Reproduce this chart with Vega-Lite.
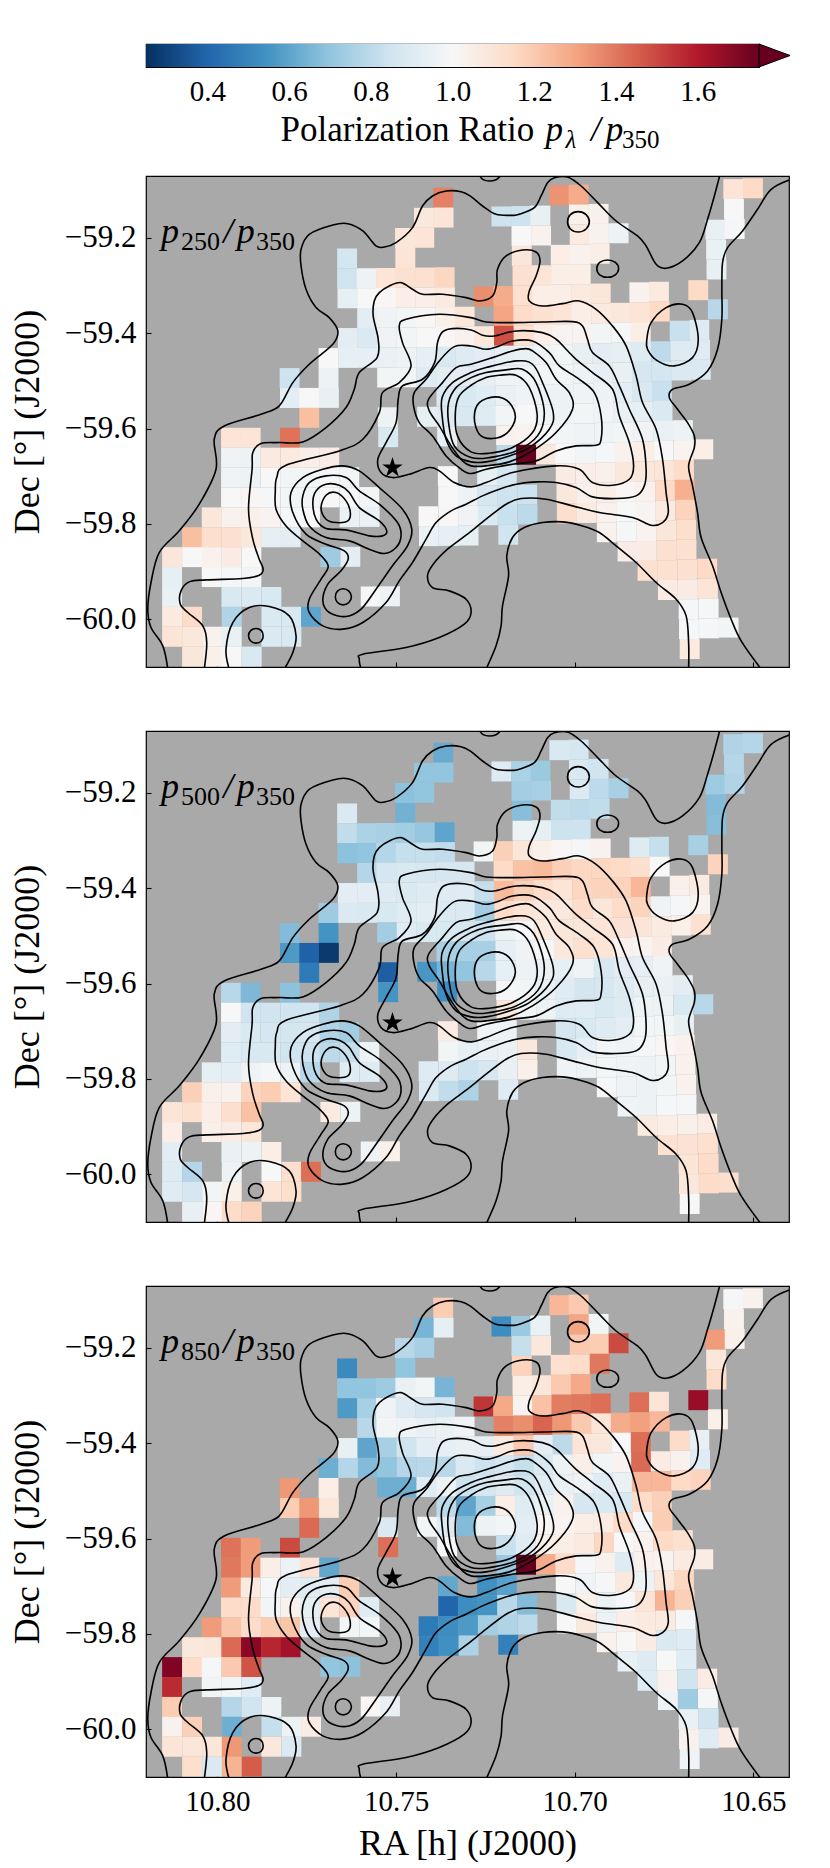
{
"$schema":"https://vega.github.io/schema/vega-lite/v6.json",
"background":"white",
"padding":{"left":8,"top":41,"right":0,"bottom":0},
"config":{"font":"Liberation Serif","text":{"font":"Liberation Serif"},"axis":{"labelFont":"Liberation Serif","titleFont":"Liberation Serif","labelColor":"black","titleColor":"black","tickColor":"black","domain":false,"grid":false,"zindex":1,"titleFontWeight":"normal","labelFontSize":29,"titleFontSize":36,"tickWidth":1.1,"tickSize":-5,"labelPadding":15}},
"datasets":{
"cells":[
{"ra":10.7368,"dec":-59.1155,"r250":1.38,"r500":0.62,"r850":1.19},
{"ra":10.7043,"dec":-59.1102,"r250":1.34,"r500":0.88,"r850":1.25},
{"ra":10.6989,"dec":-59.1091,"r250":1.28,"r500":0.87,"r850":1.2},
{"ra":10.6556,"dec":-59.0975,"r250":1.1,"r500":0.77,"r850":0.99},
{"ra":10.6501,"dec":-59.0957,"r250":1.15,"r500":0.78,"r850":1.03},
{"ra":10.7422,"dec":-59.1578,"r250":1.08,"r500":0.7,"r850":0.65},
{"ra":10.7367,"dec":-59.1572,"r250":1.1,"r500":0.7,"r850":0.93},
{"ra":10.7205,"dec":-59.1549,"r250":0.84,"r500":0.9,"r850":0.53},
{"ra":10.715,"dec":-59.154,"r250":0.84,"r500":0.76,"r850":0.72},
{"ra":10.7096,"dec":-59.153,"r250":0.94,"r500":0.72,"r850":0.95},
{"ra":10.6988,"dec":-59.1508,"r250":1.04,"r500":0.88,"r850":1.3},
{"ra":10.6933,"dec":-59.1496,"r250":1.04,"r500":0.85,"r850":0.98},
{"ra":10.6554,"dec":-59.1392,"r250":1.0,"r500":0.78,"r850":1.03},
{"ra":10.7475,"dec":-59.2001,"r250":1.09,"r500":0.69,"r850":0.79},
{"ra":10.7421,"dec":-59.1996,"r250":1.1,"r500":0.7,"r850":0.75},
{"ra":10.7149,"dec":-59.1958,"r250":1.0,"r500":0.74,"r850":0.82},
{"ra":10.7094,"dec":-59.1948,"r250":1.03,"r500":0.75,"r850":1.08},
{"ra":10.6986,"dec":-59.1926,"r250":1.07,"r500":0.89,"r850":1.2},
{"ra":10.6932,"dec":-59.1914,"r250":1.03,"r500":0.8,"r850":1.19},
{"ra":10.6877,"dec":-59.1901,"r250":0.96,"r500":0.75,"r850":1.5},
{"ra":10.6606,"dec":-59.1827,"r250":0.94,"r500":0.73,"r850":1.32},
{"ra":10.6552,"dec":-59.181,"r250":0.99,"r500":0.77,"r850":1.04},
{"ra":10.7637,"dec":-59.243,"r250":0.86,"r500":0.89,"r850":0.52},
{"ra":10.7474,"dec":-59.2418,"r250":1.1,"r500":0.64,"r850":0.7},
{"ra":10.7148,"dec":-59.2375,"r250":1.09,"r500":0.68,"r850":1.17},
{"ra":10.7039,"dec":-59.2354,"r250":1.05,"r500":0.81,"r850":1.12},
{"ra":10.6985,"dec":-59.2343,"r250":1.03,"r500":0.8,"r850":1.14},
{"ra":10.693,"dec":-59.2331,"r250":1.05,"r500":0.81,"r850":1.4},
{"ra":10.6604,"dec":-59.2244,"r250":0.95,"r500":0.67,"r850":1.09},
{"ra":10.7637,"dec":-59.2847,"r250":0.85,"r500":0.81,"r850":0.7},
{"ra":10.7582,"dec":-59.2844,"r250":0.96,"r500":0.76,"r850":0.7},
{"ra":10.7528,"dec":-59.284,"r250":1.1,"r500":0.75,"r850":0.73},
{"ra":10.7474,"dec":-59.2835,"r250":1.12,"r500":0.74,"r850":0.95},
{"ra":10.7419,"dec":-59.283,"r250":1.12,"r500":0.71,"r850":0.98},
{"ra":10.7364,"dec":-59.2824,"r250":1.16,"r500":0.6,"r850":0.65},
{"ra":10.7146,"dec":-59.2792,"r250":1.12,"r500":0.96,"r850":1.05},
{"ra":10.7092,"dec":-59.2782,"r250":1.1,"r500":0.93,"r850":1.09},
{"ra":10.7038,"dec":-59.2771,"r250":1.05,"r500":0.84,"r850":1.2},
{"ra":10.6983,"dec":-59.276,"r250":1.05,"r500":0.84,"r850":1.29},
{"ra":10.6603,"dec":-59.2661,"r250":0.94,"r500":0.68,"r850":1.14},
{"ra":10.7636,"dec":-59.3265,"r250":0.93,"r500":0.69,"r850":0.57},
{"ra":10.7581,"dec":-59.3262,"r250":1.0,"r500":0.7,"r850":0.75},
{"ra":10.7528,"dec":-59.3258,"r250":1.01,"r500":0.78,"r850":0.97},
{"ra":10.7473,"dec":-59.3253,"r250":1.05,"r500":0.82,"r850":0.9},
{"ra":10.7418,"dec":-59.3248,"r250":1.05,"r500":0.82,"r850":0.87},
{"ra":10.7363,"dec":-59.3242,"r250":1.07,"r500":0.81,"r850":0.85},
{"ra":10.7255,"dec":-59.3227,"r250":1.35,"r500":0.98,"r850":1.55},
{"ra":10.72,"dec":-59.3219,"r250":1.28,"r500":1.18,"r850":1.29},
{"ra":10.7145,"dec":-59.321,"r250":1.12,"r500":1.09,"r850":1.02},
{"ra":10.7091,"dec":-59.32,"r250":1.05,"r500":1.04,"r850":1.22},
{"ra":10.7037,"dec":-59.3189,"r250":1.05,"r500":1.01,"r850":1.39},
{"ra":10.6982,"dec":-59.3178,"r250":1.07,"r500":0.99,"r850":1.4},
{"ra":10.6927,"dec":-59.3166,"r250":1.09,"r500":1.03,"r850":1.42},
{"ra":10.6819,"dec":-59.314,"r250":1.03,"r500":0.9,"r850":1.42},
{"ra":10.6764,"dec":-59.3126,"r250":1.07,"r500":0.82,"r850":1.1},
{"ra":10.6654,"dec":-59.3095,"r250":1.15,"r500":0.75,"r850":1.65},
{"ra":10.7581,"dec":-59.3679,"r250":0.92,"r500":0.78,"r850":0.79},
{"ra":10.7527,"dec":-59.3675,"r250":0.97,"r500":0.87,"r850":0.98},
{"ra":10.7472,"dec":-59.367,"r250":0.98,"r500":0.88,"r850":0.97},
{"ra":10.7417,"dec":-59.3665,"r250":1.01,"r500":0.87,"r850":0.94},
{"ra":10.7362,"dec":-59.3659,"r250":1.04,"r500":0.87,"r850":0.95},
{"ra":10.7308,"dec":-59.3652,"r250":1.09,"r500":0.87,"r850":0.97},
{"ra":10.7199,"dec":-59.3636,"r250":1.3,"r500":1.15,"r850":1.38},
{"ra":10.7144,"dec":-59.3627,"r250":1.14,"r500":1.22,"r850":1.35},
{"ra":10.7089,"dec":-59.3617,"r250":1.12,"r500":1.24,"r850":1.44},
{"ra":10.7035,"dec":-59.3606,"r250":1.1,"r500":1.18,"r850":1.33},
{"ra":10.6981,"dec":-59.3595,"r250":1.05,"r500":1.16,"r850":1.2},
{"ra":10.6926,"dec":-59.3583,"r250":1.07,"r500":1.16,"r850":1.1},
{"ra":10.6871,"dec":-59.357,"r250":1.08,"r500":1.15,"r850":1.28},
{"ra":10.6817,"dec":-59.3557,"r250":1.1,"r500":1.13,"r850":1.31},
{"ra":10.6762,"dec":-59.3543,"r250":1.15,"r500":1.0,"r850":1.25},
{"ra":10.6599,"dec":-59.3496,"r250":0.79,"r500":1.17,"r850":1.04},
{"ra":10.7635,"dec":-59.4099,"r250":0.92,"r500":0.92,"r850":0.94},
{"ra":10.758,"dec":-59.4096,"r250":0.89,"r500":0.92,"r850":0.6},
{"ra":10.7526,"dec":-59.4092,"r250":0.97,"r500":0.9,"r850":0.75},
{"ra":10.7471,"dec":-59.4087,"r250":0.98,"r500":0.89,"r850":0.85},
{"ra":10.7416,"dec":-59.4082,"r250":1.0,"r500":0.9,"r850":0.92},
{"ra":10.7361,"dec":-59.4076,"r250":1.01,"r500":0.9,"r850":0.93},
{"ra":10.7307,"dec":-59.4069,"r250":1.03,"r500":0.91,"r850":0.95},
{"ra":10.7253,"dec":-59.4061,"r250":1.08,"r500":0.82,"r850":0.93},
{"ra":10.7198,"dec":-59.4053,"r250":1.49,"r500":1.24,"r850":1.07},
{"ra":10.7143,"dec":-59.4044,"r250":1.12,"r500":1.18,"r850":1.2},
{"ra":10.7088,"dec":-59.4034,"r250":1.05,"r500":1.14,"r850":0.92},
{"ra":10.7034,"dec":-59.4023,"r250":1.02,"r500":1.1,"r850":0.8},
{"ra":10.6979,"dec":-59.4012,"r250":1.02,"r500":1.16,"r850":1.1},
{"ra":10.6924,"dec":-59.4,"r250":0.98,"r500":1.17,"r850":1.08},
{"ra":10.6869,"dec":-59.3987,"r250":0.99,"r500":1.17,"r850":1.0},
{"ra":10.6815,"dec":-59.3974,"r250":1.05,"r500":1.25,"r850":1.42},
{"ra":10.6706,"dec":-59.3945,"r250":0.83,"r500":1.04,"r850":1.14},
{"ra":10.6651,"dec":-59.3929,"r250":0.9,"r500":1.07,"r850":0.94},
{"ra":10.7689,"dec":-59.4519,"r250":1.0,"r500":0.73,"r850":0.63},
{"ra":10.7634,"dec":-59.4516,"r250":0.93,"r500":0.89,"r850":0.78},
{"ra":10.7579,"dec":-59.4513,"r250":0.93,"r500":0.88,"r850":0.67},
{"ra":10.7525,"dec":-59.4509,"r250":0.95,"r500":0.88,"r850":0.7},
{"ra":10.747,"dec":-59.4504,"r250":0.96,"r500":0.91,"r850":0.78},
{"ra":10.7415,"dec":-59.4499,"r250":0.93,"r500":0.92,"r850":0.79},
{"ra":10.7361,"dec":-59.4493,"r250":0.88,"r500":0.89,"r850":0.79},
{"ra":10.7306,"dec":-59.4486,"r250":0.9,"r500":0.89,"r850":0.89},
{"ra":10.7252,"dec":-59.4478,"r250":0.92,"r500":0.74,"r850":0.84},
{"ra":10.7197,"dec":-59.447,"r250":0.93,"r500":1.14,"r850":0.87},
{"ra":10.7142,"dec":-59.4461,"r250":0.95,"r500":1.1,"r850":0.82},
{"ra":10.7087,"dec":-59.4451,"r250":0.97,"r500":1.08,"r850":0.88},
{"ra":10.7033,"dec":-59.444,"r250":0.98,"r500":1.08,"r850":0.96},
{"ra":10.6978,"dec":-59.4429,"r250":0.94,"r500":1.14,"r850":1.05},
{"ra":10.6923,"dec":-59.4417,"r250":0.92,"r500":1.09,"r850":0.98},
{"ra":10.6868,"dec":-59.4404,"r250":0.93,"r500":1.14,"r850":1.02},
{"ra":10.6814,"dec":-59.4391,"r250":0.9,"r500":1.17,"r850":1.43},
{"ra":10.6759,"dec":-59.4377,"r250":0.8,"r500":0.97,"r850":1.06},
{"ra":10.6704,"dec":-59.4362,"r250":0.9,"r500":0.99,"r850":1.03},
{"ra":10.6649,"dec":-59.4346,"r250":0.9,"r500":1.02,"r850":0.91},
{"ra":10.7798,"dec":-59.494,"r250":0.84,"r500":0.67,"r850":1.33},
{"ra":10.7689,"dec":-59.4937,"r250":0.96,"r500":0.55,"r850":1.05},
{"ra":10.7525,"dec":-59.4927,"r250":0.98,"r500":0.74,"r850":0.63},
{"ra":10.747,"dec":-59.4922,"r250":0.98,"r500":0.91,"r850":0.63},
{"ra":10.7415,"dec":-59.4917,"r250":0.9,"r500":0.88,"r850":0.91},
{"ra":10.736,"dec":-59.4911,"r250":0.92,"r500":0.88,"r850":0.96},
{"ra":10.7305,"dec":-59.4904,"r250":0.92,"r500":0.87,"r850":0.84},
{"ra":10.7251,"dec":-59.4896,"r250":0.93,"r500":0.84,"r850":0.87},
{"ra":10.7195,"dec":-59.4888,"r250":0.97,"r500":0.96,"r850":0.9},
{"ra":10.714,"dec":-59.4879,"r250":0.97,"r500":0.99,"r850":0.85},
{"ra":10.7085,"dec":-59.4869,"r250":0.98,"r500":1.07,"r850":0.91},
{"ra":10.7031,"dec":-59.4858,"r250":0.98,"r500":1.09,"r850":0.95},
{"ra":10.6976,"dec":-59.4847,"r250":0.96,"r500":1.09,"r850":0.97},
{"ra":10.6921,"dec":-59.4835,"r250":0.93,"r500":1.1,"r850":0.91},
{"ra":10.6866,"dec":-59.4822,"r250":0.94,"r500":1.11,"r850":0.95},
{"ra":10.6812,"dec":-59.4809,"r250":0.87,"r500":1.1,"r850":1.25},
{"ra":10.6757,"dec":-59.4795,"r250":0.86,"r500":1.07,"r850":1.25},
{"ra":10.6702,"dec":-59.478,"r250":0.89,"r500":1.04,"r850":1.15},
{"ra":10.6647,"dec":-59.4764,"r250":0.89,"r500":1.12,"r850":1.17},
{"ra":10.7797,"dec":-59.5357,"r250":0.92,"r500":0.57,"r850":1.19},
{"ra":10.7743,"dec":-59.5356,"r250":1.0,"r500":0.39,"r850":1.33},
{"ra":10.7688,"dec":-59.5354,"r250":0.94,"r500":0.28,"r850":1.09},
{"ra":10.7359,"dec":-59.5328,"r250":0.89,"r500":0.75,"r850":0.8},
{"ra":10.7304,"dec":-59.5321,"r250":0.88,"r500":0.75,"r850":0.6},
{"ra":10.7249,"dec":-59.5313,"r250":0.91,"r500":0.75,"r850":0.75},
{"ra":10.7194,"dec":-59.5305,"r250":0.95,"r500":0.93,"r850":1.05},
{"ra":10.7139,"dec":-59.5296,"r250":0.97,"r500":0.97,"r850":0.91},
{"ra":10.7084,"dec":-59.5286,"r250":0.96,"r500":0.99,"r850":0.95},
{"ra":10.703,"dec":-59.5275,"r250":0.96,"r500":1.08,"r850":1.03},
{"ra":10.6975,"dec":-59.5264,"r250":0.97,"r500":1.12,"r850":0.87},
{"ra":10.692,"dec":-59.5252,"r250":0.96,"r500":1.1,"r850":0.88},
{"ra":10.6865,"dec":-59.5239,"r250":0.92,"r500":1.03,"r850":0.88},
{"ra":10.6811,"dec":-59.5226,"r250":0.88,"r500":1.02,"r850":1.14},
{"ra":10.6756,"dec":-59.5212,"r250":0.83,"r500":1.06,"r850":1.18},
{"ra":10.7743,"dec":-59.5773,"r250":1.23,"r500":0.47,"r850":1.43},
{"ra":10.7523,"dec":-59.5761,"r250":0.96,"r500":0.38,"r850":0.89},
{"ra":10.7413,"dec":-59.5751,"r250":0.93,"r500":0.56,"r850":0.98},
{"ra":10.7358,"dec":-59.5745,"r250":0.9,"r500":0.65,"r850":0.9},
{"ra":10.7303,"dec":-59.5738,"r250":0.88,"r500":0.7,"r850":0.67},
{"ra":10.7248,"dec":-59.573,"r250":0.91,"r500":0.79,"r850":0.96},
{"ra":10.7193,"dec":-59.5722,"r250":0.98,"r500":0.93,"r850":0.98},
{"ra":10.7138,"dec":-59.5713,"r250":1.0,"r500":0.96,"r850":0.92},
{"ra":10.7083,"dec":-59.5703,"r250":0.97,"r500":0.95,"r850":1.01},
{"ra":10.7029,"dec":-59.5692,"r250":0.96,"r500":0.93,"r850":1.02},
{"ra":10.6974,"dec":-59.5681,"r250":0.98,"r500":0.97,"r850":1.05},
{"ra":10.6918,"dec":-59.5669,"r250":0.97,"r500":0.88,"r850":1.06},
{"ra":10.6863,"dec":-59.5656,"r250":0.95,"r500":0.92,"r850":1.15},
{"ra":10.6809,"dec":-59.5643,"r250":0.93,"r500":0.93,"r850":0.99},
{"ra":10.6754,"dec":-59.5629,"r250":0.89,"r500":0.97,"r850":1.19},
{"ra":10.7962,"dec":-59.6192,"r250":1.1,"r500":0.79,"r850":1.41},
{"ra":10.7907,"dec":-59.6192,"r250":1.1,"r500":0.66,"r850":1.32},
{"ra":10.7797,"dec":-59.6192,"r250":1.41,"r500":0.69,"r850":1.5},
{"ra":10.7522,"dec":-59.6179,"r250":0.88,"r500":0.55,"r850":1.42},
{"ra":10.7357,"dec":-59.6163,"r250":0.94,"r500":0.53,"r850":0.99},
{"ra":10.7192,"dec":-59.614,"r250":1.03,"r500":0.99,"r850":0.83},
{"ra":10.7137,"dec":-59.6131,"r250":1.02,"r500":0.98,"r850":0.91},
{"ra":10.7082,"dec":-59.6121,"r250":0.99,"r500":0.95,"r850":1.04},
{"ra":10.7027,"dec":-59.611,"r250":0.98,"r500":0.91,"r850":1.05},
{"ra":10.6972,"dec":-59.6099,"r250":0.97,"r500":0.86,"r850":1.07},
{"ra":10.6917,"dec":-59.6087,"r250":0.97,"r500":0.87,"r850":1.16},
{"ra":10.6862,"dec":-59.6074,"r250":0.98,"r500":0.9,"r850":1.0},
{"ra":10.6807,"dec":-59.6061,"r250":0.97,"r500":0.93,"r850":1.03},
{"ra":10.6752,"dec":-59.6047,"r250":0.95,"r500":0.95,"r850":1.15},
{"ra":10.6697,"dec":-59.6032,"r250":0.96,"r500":0.92,"r850":1.12},
{"ra":10.7962,"dec":-59.6609,"r250":0.97,"r500":1.0,"r850":1.4},
{"ra":10.7907,"dec":-59.6609,"r250":0.96,"r500":0.85,"r850":1.32},
{"ra":10.7852,"dec":-59.6609,"r250":1.07,"r500":0.85,"r850":1.05},
{"ra":10.7796,"dec":-59.6609,"r250":1.07,"r500":0.85,"r850":0.96},
{"ra":10.7742,"dec":-59.6608,"r250":1.05,"r500":0.85,"r850":1.11},
{"ra":10.7687,"dec":-59.6606,"r250":1.06,"r500":0.77,"r850":0.61},
{"ra":10.7191,"dec":-59.6557,"r250":0.8,"r500":1.08,"r850":0.72},
{"ra":10.7136,"dec":-59.6548,"r250":1.78,"r500":0.98,"r850":1.76},
{"ra":10.708,"dec":-59.6538,"r250":1.08,"r500":0.96,"r850":1.28},
{"ra":10.7026,"dec":-59.6527,"r250":1.0,"r500":0.9,"r850":1.14},
{"ra":10.6971,"dec":-59.6516,"r250":0.98,"r500":0.91,"r850":0.99},
{"ra":10.6915,"dec":-59.6504,"r250":0.99,"r500":0.88,"r850":1.03},
{"ra":10.686,"dec":-59.6491,"r250":1.03,"r500":0.9,"r850":0.9},
{"ra":10.6806,"dec":-59.6478,"r250":1.05,"r500":0.96,"r850":1.03},
{"ra":10.6751,"dec":-59.6464,"r250":1.0,"r500":0.96,"r850":1.02},
{"ra":10.6695,"dec":-59.6449,"r250":1.02,"r500":0.88,"r850":1.07},
{"ra":10.664,"dec":-59.6433,"r250":1.05,"r500":0.79,"r850":1.06},
{"ra":10.7962,"dec":-59.7026,"r250":0.97,"r500":0.92,"r850":1.32},
{"ra":10.7907,"dec":-59.7026,"r250":0.96,"r500":0.88,"r850":1.07},
{"ra":10.7851,"dec":-59.7026,"r250":1.0,"r500":0.87,"r850":0.99},
{"ra":10.7796,"dec":-59.7026,"r250":0.98,"r500":0.86,"r850":0.92},
{"ra":10.7741,"dec":-59.7025,"r250":0.98,"r500":0.87,"r850":0.91},
{"ra":10.7686,"dec":-59.7023,"r250":0.99,"r500":0.77,"r850":0.92},
{"ra":10.7631,"dec":-59.702,"r250":0.98,"r500":0.74,"r850":1.19},
{"ra":10.7355,"dec":-59.6997,"r250":1.0,"r500":1.06,"r850":0.61},
{"ra":10.7245,"dec":-59.6982,"r250":0.93,"r500":0.97,"r850":0.54},
{"ra":10.719,"dec":-59.6974,"r250":0.87,"r500":0.96,"r850":0.59},
{"ra":10.7025,"dec":-59.6944,"r250":1.06,"r500":0.86,"r850":1.0},
{"ra":10.6969,"dec":-59.6933,"r250":1.05,"r500":0.88,"r850":0.97},
{"ra":10.6914,"dec":-59.6921,"r250":1.04,"r500":0.9,"r850":0.99},
{"ra":10.6859,"dec":-59.6908,"r250":1.08,"r500":0.92,"r850":1.08},
{"ra":10.6804,"dec":-59.6895,"r250":1.09,"r500":0.98,"r850":0.96},
{"ra":10.6749,"dec":-59.6881,"r250":1.1,"r500":0.98,"r850":1.09},
{"ra":10.6694,"dec":-59.6866,"r250":1.14,"r500":0.94,"r850":1.16},
{"ra":10.7962,"dec":-59.7444,"r250":1.0,"r500":0.91,"r850":1.14},
{"ra":10.7906,"dec":-59.7444,"r250":1.01,"r500":0.88,"r850":1.14},
{"ra":10.7851,"dec":-59.7444,"r250":0.99,"r500":0.88,"r850":0.98},
{"ra":10.7795,"dec":-59.7444,"r250":0.98,"r500":0.85,"r850":1.03},
{"ra":10.7741,"dec":-59.7443,"r250":0.98,"r500":0.84,"r850":0.93},
{"ra":10.7686,"dec":-59.7441,"r250":1.0,"r500":0.8,"r850":1.1},
{"ra":10.763,"dec":-59.7438,"r250":0.99,"r500":0.82,"r850":1.17},
{"ra":10.7575,"dec":-59.7435,"r250":0.98,"r500":0.96,"r850":0.91},
{"ra":10.7354,"dec":-59.7415,"r250":1.0,"r500":0.98,"r850":0.4},
{"ra":10.7299,"dec":-59.7408,"r250":0.96,"r500":0.93,"r850":0.53},
{"ra":10.7244,"dec":-59.74,"r250":0.87,"r500":0.95,"r850":0.55},
{"ra":10.7189,"dec":-59.7392,"r250":0.84,"r500":0.95,"r850":0.79},
{"ra":10.7133,"dec":-59.7383,"r250":0.84,"r500":1.08,"r850":0.67},
{"ra":10.7023,"dec":-59.7362,"r250":1.08,"r500":0.88,"r850":0.88},
{"ra":10.6968,"dec":-59.7351,"r250":1.04,"r500":0.93,"r850":1.04},
{"ra":10.6912,"dec":-59.7339,"r250":1.05,"r500":0.98,"r850":0.96},
{"ra":10.6857,"dec":-59.7326,"r250":1.01,"r500":0.97,"r850":0.99},
{"ra":10.6803,"dec":-59.7313,"r250":1.03,"r500":0.99,"r850":1.1},
{"ra":10.6747,"dec":-59.7299,"r250":1.15,"r500":1.01,"r850":1.26},
{"ra":10.6692,"dec":-59.7284,"r250":1.27,"r500":1.03,"r850":1.18},
{"ra":10.8016,"dec":-59.7861,"r250":1.09,"r500":0.93,"r850":1.32},
{"ra":10.7961,"dec":-59.7861,"r250":1.03,"r500":0.92,"r850":1.21},
{"ra":10.7906,"dec":-59.7861,"r250":1.04,"r500":0.97,"r850":1.14},
{"ra":10.7851,"dec":-59.7861,"r250":1.02,"r500":0.99,"r850":1.19},
{"ra":10.7795,"dec":-59.7861,"r250":0.99,"r500":0.96,"r850":1.21},
{"ra":10.7741,"dec":-59.786,"r250":1.0,"r500":0.79,"r850":0.92},
{"ra":10.763,"dec":-59.7855,"r250":0.95,"r500":0.91,"r850":0.98},
{"ra":10.7574,"dec":-59.7852,"r250":0.95,"r500":0.9,"r850":0.98},
{"ra":10.7409,"dec":-59.7838,"r250":1.0,"r500":0.9,"r850":0.47},
{"ra":10.7353,"dec":-59.7832,"r250":1.01,"r500":0.9,"r850":0.53},
{"ra":10.7298,"dec":-59.7825,"r250":0.97,"r500":0.84,"r850":0.57},
{"ra":10.7243,"dec":-59.7817,"r250":0.89,"r500":0.87,"r850":0.74},
{"ra":10.7188,"dec":-59.7809,"r250":0.83,"r500":0.94,"r850":0.77},
{"ra":10.7132,"dec":-59.78,"r250":0.8,"r500":1.04,"r850":0.8},
{"ra":10.7022,"dec":-59.7779,"r250":1.13,"r500":0.97,"r850":1.0},
{"ra":10.6967,"dec":-59.7768,"r250":1.07,"r500":0.96,"r850":1.08},
{"ra":10.6911,"dec":-59.7756,"r250":1.03,"r500":0.98,"r850":0.96},
{"ra":10.6856,"dec":-59.7743,"r250":1.0,"r500":0.97,"r850":1.05},
{"ra":10.6801,"dec":-59.773,"r250":1.02,"r500":0.96,"r850":1.07},
{"ra":10.6746,"dec":-59.7716,"r250":1.07,"r500":0.98,"r850":1.07},
{"ra":10.669,"dec":-59.7701,"r250":1.17,"r500":1.03,"r850":0.99},
{"ra":10.8071,"dec":-59.8278,"r250":1.23,"r500":1.18,"r850":1.08},
{"ra":10.8016,"dec":-59.8278,"r250":1.13,"r500":1.04,"r850":1.09},
{"ra":10.7961,"dec":-59.8278,"r250":1.12,"r500":1.03,"r850":1.43},
{"ra":10.7906,"dec":-59.8278,"r250":1.08,"r500":1.17,"r850":1.68},
{"ra":10.785,"dec":-59.8278,"r250":0.93,"r500":1.19,"r850":1.58},
{"ra":10.7795,"dec":-59.8278,"r250":0.92,"r500":1.1,"r850":1.63},
{"ra":10.7408,"dec":-59.8255,"r250":0.95,"r500":0.89,"r850":0.49},
{"ra":10.7352,"dec":-59.8249,"r250":0.93,"r500":0.81,"r850":0.54},
{"ra":10.7297,"dec":-59.8242,"r250":0.93,"r500":0.76,"r850":0.76},
{"ra":10.7186,"dec":-59.8226,"r250":0.85,"r500":0.9,"r850":0.49},
{"ra":10.691,"dec":-59.8173,"r250":1.03,"r500":0.99,"r850":1.03},
{"ra":10.6854,"dec":-59.816,"r250":0.99,"r500":0.97,"r850":1.0},
{"ra":10.6799,"dec":-59.8147,"r250":1.02,"r500":0.96,"r850":1.06},
{"ra":10.6744,"dec":-59.8133,"r250":1.09,"r500":0.98,"r850":0.89},
{"ra":10.6688,"dec":-59.8118,"r250":1.13,"r500":1.03,"r850":0.91},
{"ra":10.8127,"dec":-59.8695,"r250":1.09,"r500":1.1,"r850":1.7},
{"ra":10.8071,"dec":-59.8695,"r250":1.0,"r500":1.12,"r850":1.14},
{"ra":10.8016,"dec":-59.8695,"r250":1.03,"r500":1.05,"r850":0.99},
{"ra":10.7961,"dec":-59.8695,"r250":1.06,"r500":1.13,"r850":1.2},
{"ra":10.7905,"dec":-59.8695,"r250":1.0,"r500":1.22,"r850":1.48},
{"ra":10.7684,"dec":-59.8692,"r250":0.73,"r500":1.07,"r850":0.7},
{"ra":10.7628,"dec":-59.8689,"r250":0.92,"r500":0.96,"r850":0.69},
{"ra":10.6852,"dec":-59.8577,"r250":1.06,"r500":0.97,"r850":0.94},
{"ra":10.6798,"dec":-59.8564,"r250":1.06,"r500":0.96,"r850":0.9},
{"ra":10.6742,"dec":-59.855,"r250":1.12,"r500":0.99,"r850":1.0},
{"ra":10.6687,"dec":-59.8535,"r250":1.12,"r500":0.99,"r850":0.91},
{"ra":10.8127,"dec":-59.9113,"r250":0.93,"r500":1.05,"r850":1.57},
{"ra":10.8016,"dec":-59.9113,"r250":1.0,"r500":1.04,"r850":0.98},
{"ra":10.7961,"dec":-59.9113,"r250":0.99,"r500":1.06,"r850":0.98},
{"ra":10.7905,"dec":-59.9113,"r250":0.98,"r500":1.09,"r850":0.91},
{"ra":10.6796,"dec":-59.8982,"r250":1.12,"r500":1.07,"r850":0.91},
{"ra":10.6741,"dec":-59.8968,"r250":1.12,"r500":1.05,"r850":1.03},
{"ra":10.6685,"dec":-59.8953,"r250":1.12,"r500":1.04,"r850":0.85},
{"ra":10.6629,"dec":-59.8937,"r250":1.15,"r500":1.06,"r850":1.06},
{"ra":10.8127,"dec":-59.953,"r250":0.95,"r500":0.92,"r850":1.19},
{"ra":10.7961,"dec":-59.953,"r250":0.88,"r500":0.95,"r850":0.78},
{"ra":10.7905,"dec":-59.953,"r250":0.89,"r500":0.96,"r850":0.85},
{"ra":10.7849,"dec":-59.953,"r250":0.88,"r500":1.05,"r850":0.96},
{"ra":10.7571,"dec":-59.9521,"r250":0.99,"r500":0.97,"r850":1.01},
{"ra":10.7517,"dec":-59.9517,"r250":0.96,"r500":1.04,"r850":0.94},
{"ra":10.6739,"dec":-59.9385,"r250":1.06,"r500":1.12,"r850":0.97},
{"ra":10.6683,"dec":-59.937,"r250":1.06,"r500":1.11,"r850":0.73},
{"ra":10.6627,"dec":-59.9354,"r250":1.1,"r500":1.12,"r850":0.99},
{"ra":10.8127,"dec":-59.9947,"r250":1.07,"r500":0.9,"r850":1.03},
{"ra":10.8071,"dec":-59.9947,"r250":1.14,"r500":0.78,"r850":1.18},
{"ra":10.796,"dec":-59.9947,"r250":0.77,"r500":0.96,"r850":0.63},
{"ra":10.7849,"dec":-59.9947,"r250":0.89,"r500":1.0,"r850":0.82},
{"ra":10.7793,"dec":-59.9947,"r250":0.88,"r500":1.13,"r850":0.96},
{"ra":10.7738,"dec":-59.9946,"r250":0.6,"r500":1.42,"r850":1.06},
{"ra":10.6681,"dec":-59.9787,"r250":0.99,"r500":1.1,"r850":0.95},
{"ra":10.6625,"dec":-59.9771,"r250":0.99,"r500":1.14,"r850":0.85},
{"ra":10.8127,"dec":-60.0365,"r250":1.1,"r500":0.91,"r850":1.1},
{"ra":10.8071,"dec":-60.0365,"r250":1.08,"r500":0.87,"r850":1.09},
{"ra":10.8015,"dec":-60.0365,"r250":1.03,"r500":0.98,"r850":1.09},
{"ra":10.796,"dec":-60.0365,"r250":0.95,"r500":1.04,"r850":1.33},
{"ra":10.7849,"dec":-60.0365,"r250":0.89,"r500":1.1,"r850":1.08},
{"ra":10.7793,"dec":-60.0365,"r250":0.88,"r500":1.13,"r850":0.89},
{"ra":10.668,"dec":-60.0205,"r250":0.99,"r500":1.08,"r850":1.03},
{"ra":10.6624,"dec":-60.0189,"r250":0.99,"r500":1.14,"r850":0.91},
{"ra":10.6569,"dec":-60.0173,"r250":0.98,"r500":1.13,"r850":1.06},
{"ra":10.8071,"dec":-60.0782,"r250":1.09,"r500":0.94,"r850":1.13},
{"ra":10.8015,"dec":-60.0782,"r250":1.04,"r500":1.01,"r850":0.89},
{"ra":10.796,"dec":-60.0782,"r250":1.0,"r500":1.14,"r850":1.26},
{"ra":10.7904,"dec":-60.0782,"r250":0.88,"r500":1.17,"r850":1.46},
{"ra":10.6678,"dec":-60.0622,"r250":1.07,"r500":1.0,"r850":0.97}
],
"open":[
{"c":1,"ra":10.8139,"dec":-60.1045},{"c":1,"ra":10.8153,"dec":-60.0556},{"c":1,"ra":10.8186,"dec":-60.0171},{"c":1,"ra":10.8195,"dec":-59.9787},{"c":1,"ra":10.8186,"dec":-59.9228},{"c":1,"ra":10.8163,"dec":-59.8599},{"c":1,"ra":10.8107,"dec":-59.8144},{"c":1,"ra":10.8051,"dec":-59.7585},{"c":1,"ra":10.8004,"dec":-59.6851},{"c":1,"ra":10.8009,"dec":-59.6222},{"c":1,"ra":10.7981,"dec":-59.5943},{"c":1,"ra":10.7878,"dec":-59.5698},{"c":1,"ra":10.7827,"dec":-59.5523},{"c":1,"ra":10.7789,"dec":-59.5034},{"c":1,"ra":10.7743,"dec":-59.4649},{"c":1,"ra":10.7677,"dec":-59.423},{"c":1,"ra":10.7663,"dec":-59.395},{"c":1,"ra":10.7687,"dec":-59.3671},{"c":1,"ra":10.7724,"dec":-59.3461},{"c":1,"ra":10.7752,"dec":-59.3077},{"c":1,"ra":10.7766,"dec":-59.2587},{"c":1,"ra":10.7766,"dec":-59.2238},{"c":1,"ra":10.7743,"dec":-59.1923},{"c":1,"ra":10.7677,"dec":-59.1728},{"c":1,"ra":10.7635,"dec":-59.17},{"c":1,"ra":10.7593,"dec":-59.1853},{"c":1,"ra":10.7556,"dec":-59.2168},{"c":1,"ra":10.7533,"dec":-59.2189},{"c":1,"ra":10.75,"dec":-59.2098},{"c":1,"ra":10.7454,"dec":-59.1783},{"c":1,"ra":10.7426,"dec":-59.1329},{"c":1,"ra":10.7398,"dec":-59.1119},{"c":1,"ra":10.736,"dec":-59.1015},{"c":1,"ra":10.7318,"dec":-59.1029},{"c":1,"ra":10.729,"dec":-59.1133},{"c":1,"ra":10.7258,"dec":-59.1329},{"c":1,"ra":10.722,"dec":-59.1504},{"c":1,"ra":10.7174,"dec":-59.1525},{"c":1,"ra":10.7155,"dec":-59.1504},{"c":1,"ra":10.7113,"dec":-59.1364},{"c":1,"ra":10.7094,"dec":-59.1119},{"c":1,"ra":10.7076,"dec":-59.084},{"c":1,"ra":10.7057,"dec":-59.0735},{"c":1,"ra":10.702,"dec":-59.0721},{"c":1,"ra":10.6982,"dec":-59.091},{"c":1,"ra":10.6931,"dec":-59.1294},{"c":1,"ra":10.6884,"dec":-59.1644},{"c":1,"ra":10.6824,"dec":-59.1958},{"c":1,"ra":10.68,"dec":-59.2168},{"c":1,"ra":10.6772,"dec":-59.2552},{"c":1,"ra":10.6744,"dec":-59.2636},{"c":1,"ra":10.6698,"dec":-59.2482},{"c":1,"ra":10.6651,"dec":-59.2098},{"c":1,"ra":10.6628,"dec":-59.1609},{"c":1,"ra":10.6609,"dec":-59.1119},{"c":1,"ra":10.6593,"dec":-59.0665},
{"c":2,"ra":10.7267,"dec":-59.0686},{"c":2,"ra":10.7256,"dec":-59.0777},{"c":2,"ra":10.7239,"dec":-59.0805},{"c":2,"ra":10.722,"dec":-59.0777},{"c":2,"ra":10.7206,"dec":-59.0686},
{"c":3,"ra":10.6394,"dec":-59.077},{"c":3,"ra":10.645,"dec":-59.098},{"c":3,"ra":10.6488,"dec":-59.1399},{"c":3,"ra":10.653,"dec":-59.1853},{"c":3,"ra":10.6572,"dec":-59.2203},{"c":3,"ra":10.6586,"dec":-59.2517},{"c":3,"ra":10.6588,"dec":-59.3077},{"c":3,"ra":10.6588,"dec":-59.3706},{"c":3,"ra":10.66,"dec":-59.4335},{"c":3,"ra":10.6628,"dec":-59.4789},{"c":3,"ra":10.6679,"dec":-59.5069},{"c":3,"ra":10.6726,"dec":-59.5174},{"c":3,"ra":10.6735,"dec":-59.5348},{"c":3,"ra":10.6712,"dec":-59.5593},{"c":3,"ra":10.6684,"dec":-59.5873},{"c":3,"ra":10.6665,"dec":-59.6152},{"c":3,"ra":10.6665,"dec":-59.6397},{"c":3,"ra":10.6681,"dec":-59.6781},{"c":3,"ra":10.667,"dec":-59.7201},{"c":3,"ra":10.6656,"dec":-59.776},{"c":3,"ra":10.6646,"dec":-59.8284},{"c":3,"ra":10.6614,"dec":-59.8878},{"c":3,"ra":10.659,"dec":-59.9438},{"c":3,"ra":10.6562,"dec":-59.9997},{"c":3,"ra":10.6534,"dec":-60.0451},{"c":3,"ra":10.6478,"dec":-60.1045},
{"c":4,"ra":10.7248,"dec":-60.1045},{"c":4,"ra":10.722,"dec":-60.0556},{"c":4,"ra":10.7206,"dec":-60.0137},{"c":4,"ra":10.7202,"dec":-59.9717},{"c":4,"ra":10.7185,"dec":-59.9088},{"c":4,"ra":10.719,"dec":-59.8669},{"c":4,"ra":10.7174,"dec":-59.8284},{"c":4,"ra":10.7141,"dec":-59.8074},{"c":4,"ra":10.709,"dec":-59.797},{"c":4,"ra":10.7034,"dec":-59.7956},{"c":4,"ra":10.6978,"dec":-59.804},{"c":4,"ra":10.6931,"dec":-59.8179},{"c":4,"ra":10.6884,"dec":-59.8459},{"c":4,"ra":10.6828,"dec":-59.8808},{"c":4,"ra":10.6772,"dec":-59.9228},{"c":4,"ra":10.6716,"dec":-59.9577},{"c":4,"ra":10.6688,"dec":-59.9927},{"c":4,"ra":10.6681,"dec":-60.0486},{"c":4,"ra":10.6681,"dec":-60.1045},
{"c":5,"ra":10.8037,"dec":-60.1045},{"c":5,"ra":10.803,"dec":-60.0486},{"c":5,"ra":10.8041,"dec":-60.0137},{"c":5,"ra":10.8083,"dec":-59.9857},{"c":5,"ra":10.8104,"dec":-59.9682},{"c":5,"ra":10.8102,"dec":-59.9403},{"c":5,"ra":10.8079,"dec":-59.9214},{"c":5,"ra":10.8032,"dec":-59.9172},{"c":5,"ra":10.7929,"dec":-59.9144},{"c":5,"ra":10.7883,"dec":-59.9074},{"c":5,"ra":10.7872,"dec":-59.8948},{"c":5,"ra":10.7883,"dec":-59.8739},{"c":5,"ra":10.7901,"dec":-59.8319},{"c":5,"ra":10.7913,"dec":-59.769},{"c":5,"ra":10.7903,"dec":-59.6851},{"c":5,"ra":10.7901,"dec":-59.6502},{"c":5,"ra":10.7878,"dec":-59.6313},{"c":5,"ra":10.7827,"dec":-59.6292},{"c":5,"ra":10.7761,"dec":-59.6278},{"c":5,"ra":10.7696,"dec":-59.5977},{"c":5,"ra":10.764,"dec":-59.5558},{"c":5,"ra":10.7617,"dec":-59.5174},{"c":5,"ra":10.7603,"dec":-59.4824},{"c":5,"ra":10.7553,"dec":-59.451},{"c":5,"ra":10.755,"dec":-59.4125},{"c":5,"ra":10.7564,"dec":-59.3636},{"c":5,"ra":10.7561,"dec":-59.3321},{"c":5,"ra":10.7547,"dec":-59.3147},{"c":5,"ra":10.7519,"dec":-59.3007},{"c":5,"ra":10.7486,"dec":-59.2937},{"c":5,"ra":10.7454,"dec":-59.3077},{"c":5,"ra":10.7426,"dec":-59.3181},{"c":5,"ra":10.737,"dec":-59.3181},{"c":5,"ra":10.7304,"dec":-59.3251},{"c":5,"ra":10.7267,"dec":-59.3321},{"c":5,"ra":10.723,"dec":-59.3216},{"c":5,"ra":10.7218,"dec":-59.2937},{"c":5,"ra":10.7216,"dec":-59.2657},{"c":5,"ra":10.7192,"dec":-59.2378},{"c":5,"ra":10.7146,"dec":-59.2252},{"c":5,"ra":10.7108,"dec":-59.2294},{"c":5,"ra":10.7097,"dec":-59.2482},{"c":5,"ra":10.7108,"dec":-59.2797},{"c":5,"ra":10.7127,"dec":-59.3112},{"c":5,"ra":10.7127,"dec":-59.3321},{"c":5,"ra":10.709,"dec":-59.3426},{"c":5,"ra":10.7034,"dec":-59.3377},{"c":5,"ra":10.6987,"dec":-59.3321},{"c":5,"ra":10.694,"dec":-59.3496},{"c":5,"ra":10.6894,"dec":-59.3846},{"c":5,"ra":10.6856,"dec":-59.4265},{"c":5,"ra":10.6828,"dec":-59.4894},{"c":5,"ra":10.681,"dec":-59.5453},{"c":5,"ra":10.6772,"dec":-59.6012},{"c":5,"ra":10.6754,"dec":-59.6642},{"c":5,"ra":10.6744,"dec":-59.7341},{"c":5,"ra":10.6738,"dec":-59.776},{"c":5,"ra":10.6754,"dec":-59.797},{"c":5,"ra":10.6786,"dec":-59.8026},{"c":5,"ra":10.6838,"dec":-59.7865},{"c":5,"ra":10.6931,"dec":-59.776},{"c":5,"ra":10.7006,"dec":-59.762},{"c":5,"ra":10.708,"dec":-59.748},{"c":5,"ra":10.715,"dec":-59.7466},{"c":5,"ra":10.7192,"dec":-59.7585},{"c":5,"ra":10.7248,"dec":-59.79},{"c":5,"ra":10.7304,"dec":-59.8235},{"c":5,"ra":10.7356,"dec":-59.8529},{"c":5,"ra":10.7396,"dec":-59.8843},{"c":5,"ra":10.7412,"dec":-59.9088},{"c":5,"ra":10.7398,"dec":-59.9333},{"c":5,"ra":10.7351,"dec":-59.9403},{"c":5,"ra":10.7304,"dec":-59.9578},{"c":5,"ra":10.729,"dec":-59.9857},{"c":5,"ra":10.7309,"dec":-60.0102},{"c":5,"ra":10.7379,"dec":-60.0381},{"c":5,"ra":10.7472,"dec":-60.0591},{"c":5,"ra":10.7593,"dec":-60.0731},{"c":5,"ra":10.7603,"dec":-60.0836},{"c":5,"ra":10.7598,"dec":-60.1045},
{"c":20,"ra":10.7967,"dec":-60.1045},{"c":20,"ra":10.7976,"dec":-60.0626},{"c":20,"ra":10.7957,"dec":-60.0067},{"c":20,"ra":10.7911,"dec":-59.9752},{"c":20,"ra":10.7855,"dec":-59.9731},{"c":20,"ra":10.7799,"dec":-59.9927},{"c":20,"ra":10.778,"dec":-60.0346},{"c":20,"ra":10.7789,"dec":-60.0696},{"c":20,"ra":10.7813,"dec":-60.1045}
],
"closed":[
{"c":6,"ra":10.7834,"dec":-59.7026},{"c":6,"ra":10.7808,"dec":-59.6767},{"c":6,"ra":10.7659,"dec":-59.6467},{"c":6,"ra":10.7593,"dec":-59.6222},{"c":6,"ra":10.7547,"dec":-59.5663},{"c":6,"ra":10.7538,"dec":-59.5244},{"c":6,"ra":10.7491,"dec":-59.5034},{"c":6,"ra":10.7458,"dec":-59.4684},{"c":6,"ra":10.7482,"dec":-59.4195},{"c":6,"ra":10.7491,"dec":-59.3846},{"c":6,"ra":10.7472,"dec":-59.3706},{"c":6,"ra":10.7379,"dec":-59.3601},{"c":6,"ra":10.729,"dec":-59.3671},{"c":6,"ra":10.7248,"dec":-59.3762},{"c":6,"ra":10.7174,"dec":-59.3776},{"c":6,"ra":10.709,"dec":-59.3762},{"c":6,"ra":10.7006,"dec":-59.3755},{"c":6,"ra":10.6978,"dec":-59.3846},{"c":6,"ra":10.6964,"dec":-59.4125},{"c":6,"ra":10.695,"dec":-59.4405},{"c":6,"ra":10.6903,"dec":-59.4684},{"c":6,"ra":10.6875,"dec":-59.5104},{"c":6,"ra":10.6847,"dec":-59.5593},{"c":6,"ra":10.681,"dec":-59.6222},{"c":6,"ra":10.68,"dec":-59.6851},{"c":6,"ra":10.6805,"dec":-59.7201},{"c":6,"ra":10.6828,"dec":-59.741},{"c":6,"ra":10.6884,"dec":-59.7466},{"c":6,"ra":10.695,"dec":-59.7431},{"c":6,"ra":10.6996,"dec":-59.7236},{"c":6,"ra":10.7052,"dec":-59.7131},{"c":6,"ra":10.7108,"dec":-59.7117},{"c":6,"ra":10.7164,"dec":-59.7166},{"c":6,"ra":10.7211,"dec":-59.7271},{"c":6,"ra":10.7258,"dec":-59.741},{"c":6,"ra":10.7304,"dec":-59.7585},{"c":6,"ra":10.7346,"dec":-59.7725},{"c":6,"ra":10.7388,"dec":-59.797},{"c":6,"ra":10.7416,"dec":-59.8319},{"c":6,"ra":10.7454,"dec":-59.8808},{"c":6,"ra":10.7491,"dec":-59.9193},{"c":6,"ra":10.7528,"dec":-59.9647},{"c":6,"ra":10.7593,"dec":-60.0067},{"c":6,"ra":10.7649,"dec":-60.0206},{"c":6,"ra":10.7705,"dec":-60.0137},{"c":6,"ra":10.7743,"dec":-59.9857},{"c":6,"ra":10.7743,"dec":-59.9577},{"c":6,"ra":10.771,"dec":-59.9158},{"c":6,"ra":10.769,"dec":-59.8878},{"c":6,"ra":10.7719,"dec":-59.8599},{"c":6,"ra":10.7761,"dec":-59.8354},{"c":6,"ra":10.7808,"dec":-59.804},{"c":6,"ra":10.7836,"dec":-59.769},{"c":6,"ra":10.7838,"dec":-59.7306},
{"c":7,"ra":10.729,"dec":-59.3929},{"c":7,"ra":10.7342,"dec":-59.3901},{"c":7,"ra":10.737,"dec":-59.3971},{"c":7,"ra":10.7384,"dec":-59.4195},{"c":7,"ra":10.7392,"dec":-59.4614},{"c":7,"ra":10.7426,"dec":-59.4964},{"c":7,"ra":10.7482,"dec":-59.5104},{"c":7,"ra":10.7494,"dec":-59.5383},{"c":7,"ra":10.75,"dec":-59.5873},{"c":7,"ra":10.7528,"dec":-59.6292},{"c":7,"ra":10.7551,"dec":-59.6642},{"c":7,"ra":10.7542,"dec":-59.6921},{"c":7,"ra":10.751,"dec":-59.7026},{"c":7,"ra":10.7463,"dec":-59.6956},{"c":7,"ra":10.7407,"dec":-59.6816},{"c":7,"ra":10.7379,"dec":-59.6886},{"c":7,"ra":10.7337,"dec":-59.7131},{"c":7,"ra":10.729,"dec":-59.7222},{"c":7,"ra":10.7248,"dec":-59.7131},{"c":7,"ra":10.7174,"dec":-59.6921},{"c":7,"ra":10.7052,"dec":-59.6781},{"c":7,"ra":10.6987,"dec":-59.6851},{"c":7,"ra":10.695,"dec":-59.7131},{"c":7,"ra":10.6894,"dec":-59.7187},{"c":7,"ra":10.6847,"dec":-59.7061},{"c":7,"ra":10.6835,"dec":-59.6781},{"c":7,"ra":10.6847,"dec":-59.6292},{"c":7,"ra":10.6875,"dec":-59.5733},{"c":7,"ra":10.6894,"dec":-59.5174},{"c":7,"ra":10.695,"dec":-59.4824},{"c":7,"ra":10.6996,"dec":-59.4545},{"c":7,"ra":10.7024,"dec":-59.4335},{"c":7,"ra":10.7052,"dec":-59.4125},{"c":7,"ra":10.709,"dec":-59.3985},{"c":7,"ra":10.7164,"dec":-59.395},{"c":7,"ra":10.7225,"dec":-59.4055},{"c":7,"ra":10.7258,"dec":-59.4041},
{"c":8,"ra":10.729,"dec":-59.4265},{"c":8,"ra":10.7337,"dec":-59.4279},{"c":8,"ra":10.7379,"dec":-59.4579},{"c":8,"ra":10.7416,"dec":-59.4964},{"c":8,"ra":10.7449,"dec":-59.5244},{"c":8,"ra":10.7451,"dec":-59.5523},{"c":8,"ra":10.7435,"dec":-59.5873},{"c":8,"ra":10.7398,"dec":-59.6152},{"c":8,"ra":10.736,"dec":-59.6572},{"c":8,"ra":10.7318,"dec":-59.6851},{"c":8,"ra":10.729,"dec":-59.6942},{"c":8,"ra":10.7248,"dec":-59.6851},{"c":8,"ra":10.7174,"dec":-59.6746},{"c":8,"ra":10.7108,"dec":-59.6676},{"c":8,"ra":10.7052,"dec":-59.6467},{"c":8,"ra":10.6996,"dec":-59.6362},{"c":8,"ra":10.694,"dec":-59.6348},{"c":8,"ra":10.6926,"dec":-59.6222},{"c":8,"ra":10.6926,"dec":-59.5733},{"c":8,"ra":10.6945,"dec":-59.5244},{"c":8,"ra":10.6987,"dec":-59.4964},{"c":8,"ra":10.7043,"dec":-59.4684},{"c":8,"ra":10.7071,"dec":-59.4405},{"c":8,"ra":10.7118,"dec":-59.416},{"c":8,"ra":10.7174,"dec":-59.416},{"c":8,"ra":10.7211,"dec":-59.4265},{"c":8,"ra":10.7248,"dec":-59.4335},
{"c":9,"ra":10.729,"dec":-59.4649},{"c":9,"ra":10.7332,"dec":-59.4719},{"c":9,"ra":10.737,"dec":-59.5034},{"c":9,"ra":10.7409,"dec":-59.5383},{"c":9,"ra":10.7407,"dec":-59.5628},{"c":9,"ra":10.7379,"dec":-59.5943},{"c":9,"ra":10.7346,"dec":-59.6362},{"c":9,"ra":10.7314,"dec":-59.6676},{"c":9,"ra":10.729,"dec":-59.6781},{"c":9,"ra":10.7248,"dec":-59.6781},{"c":9,"ra":10.7183,"dec":-59.6697},{"c":9,"ra":10.7118,"dec":-59.6467},{"c":9,"ra":10.7052,"dec":-59.6082},{"c":9,"ra":10.7006,"dec":-59.5593},{"c":9,"ra":10.7015,"dec":-59.5244},{"c":9,"ra":10.7052,"dec":-59.4964},{"c":9,"ra":10.708,"dec":-59.4614},{"c":9,"ra":10.7118,"dec":-59.437},{"c":9,"ra":10.7136,"dec":-59.4321},{"c":9,"ra":10.7174,"dec":-59.437},{"c":9,"ra":10.723,"dec":-59.451},
{"c":10,"ra":10.7164,"dec":-59.4579},{"c":10,"ra":10.7118,"dec":-59.4649},{"c":10,"ra":10.709,"dec":-59.5034},{"c":10,"ra":10.706,"dec":-59.5663},{"c":10,"ra":10.7071,"dec":-59.6012},{"c":10,"ra":10.7127,"dec":-59.6397},{"c":10,"ra":10.7183,"dec":-59.6572},{"c":10,"ra":10.7248,"dec":-59.6697},{"c":10,"ra":10.729,"dec":-59.6697},{"c":10,"ra":10.7332,"dec":-59.6572},{"c":10,"ra":10.736,"dec":-59.6222},{"c":10,"ra":10.7371,"dec":-59.5733},{"c":10,"ra":10.7371,"dec":-59.5348},{"c":10,"ra":10.7342,"dec":-59.5034},{"c":10,"ra":10.729,"dec":-59.4824},{"c":10,"ra":10.7248,"dec":-59.4719},
{"c":11,"ra":10.7146,"dec":-59.4754},{"c":11,"ra":10.7108,"dec":-59.5034},{"c":11,"ra":10.7085,"dec":-59.5663},{"c":11,"ra":10.7104,"dec":-59.6152},{"c":11,"ra":10.7164,"dec":-59.6467},{"c":11,"ra":10.7239,"dec":-59.6607},{"c":11,"ra":10.729,"dec":-59.6607},{"c":11,"ra":10.7337,"dec":-59.6362},{"c":11,"ra":10.7353,"dec":-59.5873},{"c":11,"ra":10.7353,"dec":-59.5453},{"c":11,"ra":10.7332,"dec":-59.5139},{"c":11,"ra":10.729,"dec":-59.4929},{"c":11,"ra":10.7248,"dec":-59.4824},{"c":11,"ra":10.7192,"dec":-59.4768},
{"c":12,"ra":10.7164,"dec":-59.488},{"c":12,"ra":10.7127,"dec":-59.5139},{"c":12,"ra":10.7105,"dec":-59.5698},{"c":12,"ra":10.7118,"dec":-59.6082},{"c":12,"ra":10.7174,"dec":-59.6397},{"c":12,"ra":10.7239,"dec":-59.6516},{"c":12,"ra":10.729,"dec":-59.6488},{"c":12,"ra":10.7328,"dec":-59.6152},{"c":12,"ra":10.7334,"dec":-59.5663},{"c":12,"ra":10.7323,"dec":-59.5313},{"c":12,"ra":10.729,"dec":-59.509},{"c":12,"ra":10.7248,"dec":-59.4929},{"c":12,"ra":10.7211,"dec":-59.488},
{"c":13,"ra":10.7223,"dec":-59.5334},{"c":13,"ra":10.7183,"dec":-59.5453},{"c":13,"ra":10.7166,"dec":-59.5768},{"c":13,"ra":10.7188,"dec":-59.6082},{"c":13,"ra":10.723,"dec":-59.6208},{"c":13,"ra":10.7267,"dec":-59.6117},{"c":13,"ra":10.7281,"dec":-59.5768},{"c":13,"ra":10.7267,"dec":-59.5453},
{"c":14,"ra":10.7547,"dec":-59.7236},{"c":14,"ra":10.7482,"dec":-59.769},{"c":14,"ra":10.7456,"dec":-59.8109},{"c":14,"ra":10.7468,"dec":-59.8459},{"c":14,"ra":10.751,"dec":-59.8878},{"c":14,"ra":10.7556,"dec":-59.9368},{"c":14,"ra":10.7598,"dec":-59.9787},{"c":14,"ra":10.764,"dec":-59.9941},{"c":14,"ra":10.7687,"dec":-59.9857},{"c":14,"ra":10.7705,"dec":-59.9612},{"c":14,"ra":10.7691,"dec":-59.9263},{"c":14,"ra":10.7654,"dec":-59.8983},{"c":14,"ra":10.7634,"dec":-59.8739},{"c":14,"ra":10.7645,"dec":-59.8564},{"c":14,"ra":10.7696,"dec":-59.8424},{"c":14,"ra":10.7752,"dec":-59.8214},{"c":14,"ra":10.7789,"dec":-59.776},{"c":14,"ra":10.7794,"dec":-59.7341},{"c":14,"ra":10.7761,"dec":-59.7026},{"c":14,"ra":10.7705,"dec":-59.6851},{"c":14,"ra":10.7649,"dec":-59.6781},{"c":14,"ra":10.7603,"dec":-59.6886},
{"c":15,"ra":10.7761,"dec":-59.741},{"c":15,"ra":10.7743,"dec":-59.7131},{"c":15,"ra":10.7696,"dec":-59.6991},{"c":15,"ra":10.764,"dec":-59.7026},{"c":15,"ra":10.7603,"dec":-59.7306},{"c":15,"ra":10.7547,"dec":-59.7585},{"c":15,"ra":10.7496,"dec":-59.797},{"c":15,"ra":10.7486,"dec":-59.8249},{"c":15,"ra":10.75,"dec":-59.8494},{"c":15,"ra":10.7533,"dec":-59.862},{"c":15,"ra":10.7575,"dec":-59.8529},{"c":15,"ra":10.7631,"dec":-59.8354},{"c":15,"ra":10.7696,"dec":-59.8284},{"c":15,"ra":10.7743,"dec":-59.804},{"c":15,"ra":10.7761,"dec":-59.769},
{"c":16,"ra":10.7733,"dec":-59.755},{"c":16,"ra":10.7724,"dec":-59.7306},{"c":16,"ra":10.7696,"dec":-59.7166},{"c":16,"ra":10.7659,"dec":-59.7187},{"c":16,"ra":10.7631,"dec":-59.7341},{"c":16,"ra":10.7603,"dec":-59.7655},{"c":16,"ra":10.7547,"dec":-59.7935},{"c":16,"ra":10.7526,"dec":-59.8144},{"c":16,"ra":10.7538,"dec":-59.8249},{"c":16,"ra":10.7575,"dec":-59.8249},{"c":16,"ra":10.764,"dec":-59.8123},{"c":16,"ra":10.7696,"dec":-59.8095},{"c":16,"ra":10.7724,"dec":-59.79},
{"c":17,"ra":10.771,"dec":-59.7655},{"c":17,"ra":10.7696,"dec":-59.7396},{"c":17,"ra":10.7668,"dec":-59.7341},{"c":17,"ra":10.764,"dec":-59.7515},{"c":17,"ra":10.7628,"dec":-59.776},{"c":17,"ra":10.7635,"dec":-59.7935},{"c":17,"ra":10.7668,"dec":-59.797},{"c":17,"ra":10.7696,"dec":-59.79},
{"c":18,"ra":10.7648,"dec":-59.936},{"c":18,"ra":10.7632,"dec":-59.9409},{"c":18,"ra":10.7625,"dec":-59.9528},{"c":18,"ra":10.7632,"dec":-59.9647},{"c":18,"ra":10.7648,"dec":-59.9696},{"c":18,"ra":10.7664,"dec":-59.9647},{"c":18,"ra":10.767,"dec":-59.9528},{"c":18,"ra":10.7664,"dec":-59.9409},
{"c":19,"ra":10.7892,"dec":-60.0192},{"c":19,"ra":10.7877,"dec":-60.0237},{"c":19,"ra":10.7872,"dec":-60.0346},{"c":19,"ra":10.7877,"dec":-60.0455},{"c":19,"ra":10.7892,"dec":-60.05},{"c":19,"ra":10.7907,"dec":-60.0455},{"c":19,"ra":10.7913,"dec":-60.0346},{"c":19,"ra":10.7907,"dec":-60.0237},
{"c":21,"ra":10.699,"dec":-59.1448},{"c":21,"ra":10.6968,"dec":-59.151},{"c":21,"ra":10.6959,"dec":-59.1661},{"c":21,"ra":10.6968,"dec":-59.1812},{"c":21,"ra":10.699,"dec":-59.1874},{"c":21,"ra":10.7012,"dec":-59.1812},{"c":21,"ra":10.702,"dec":-59.1661},{"c":21,"ra":10.7012,"dec":-59.151},
{"c":22,"ra":10.6908,"dec":-59.2461},{"c":22,"ra":10.6886,"dec":-59.2514},{"c":22,"ra":10.6877,"dec":-59.2643},{"c":22,"ra":10.6886,"dec":-59.2772},{"c":22,"ra":10.6908,"dec":-59.2825},{"c":22,"ra":10.693,"dec":-59.2772},{"c":22,"ra":10.6938,"dec":-59.2643},{"c":22,"ra":10.693,"dec":-59.2514},
{"c":23,"ra":10.6798,"dec":-59.4125},{"c":23,"ra":10.6786,"dec":-59.3776},{"c":23,"ra":10.6744,"dec":-59.3461},{"c":23,"ra":10.6698,"dec":-59.3391},{"c":23,"ra":10.667,"dec":-59.3566},{"c":23,"ra":10.6654,"dec":-59.4125},{"c":23,"ra":10.667,"dec":-59.451},{"c":23,"ra":10.6721,"dec":-59.4684},{"c":23,"ra":10.6768,"dec":-59.4579},{"c":23,"ra":10.6796,"dec":-59.4335}
],
"star":[{"ra":10.751,"dec":-59.682}],
"lab1":[{"ra":10.8158,"dec":-59.2105,"t":"p"},{"ra":10.7984,"dec":-59.2105,"t":"/"},{"ra":10.7946,"dec":-59.2105,"t":"p"}],
"sub250":[{"ra":10.8102,"dec":-59.2259,"t":"250"},{"ra":10.7892,"dec":-59.2259,"t":"350"}],
"sub500":[{"ra":10.8102,"dec":-59.2259,"t":"500"},{"ra":10.7892,"dec":-59.2259,"t":"350"}],
"sub850":[{"ra":10.8102,"dec":-59.2259,"t":"850"},{"ra":10.7892,"dec":-59.2259,"t":"350"}]
},
"bounds":"flush",
"spacing":109,
"vconcat":[
{"width":613,"height":23,"view":{"fill":null,"stroke":"black","strokeWidth":1.2},
"layer":[
{"data":{"values":[{"v":0.25,"v2":1.75}]},"mark":{"type":"rect","fill":{"gradient":"linear","x1":0,"y1":0,"x2":1,"y2":0,"stops":[{"offset":0,"color":"#053061"},{"offset":0.1,"color":"#2166ac"},{"offset":0.2,"color":"#4393c3"},{"offset":0.3,"color":"#92c5de"},{"offset":0.4,"color":"#d1e5f0"},{"offset":0.5,"color":"#f7f7f7"},{"offset":0.6,"color":"#fddbc7"},{"offset":0.7,"color":"#f4a582"},{"offset":0.8,"color":"#d6604d"},{"offset":0.9,"color":"#b2182b"},{"offset":1,"color":"#67001f"}]}},
"encoding":{"x":{"field":"v","type":"quantitative","scale":{"domain":[0.25,1.75],"nice":false},"axis":{"values":[0.4,0.6,0.8,1.0,1.2,1.4,1.6],"format":".1f","title":null,"orient":"bottom"}},"x2":{"field":"v2"}}},
{"data":{"values":[{"v":1.75,"y":0.5}]},"mark":{"type":"point","filled":true,"fill":"#67001f","stroke":"black","strokeWidth":1,"opacity":1,"size":529,"shape":"M0,-1L2.7,0L0,1Z","clip":false},
"encoding":{"x":{"field":"v","type":"quantitative"},"y":{"field":"y","type":"quantitative","scale":{"domain":[0,1],"nice":false},"axis":null}}},
{"data":{"values":[{"v":0.579,"y":-3.2,"t":"Polarization Ratio"}]},"mark":{"type":"text","align":"left","baseline":"alphabetic","fontSize":35,"color":"black","clip":false},
"encoding":{"x":{"field":"v","type":"quantitative"},"y":{"field":"y","type":"quantitative"},"text":{"field":"t"}}},
{"data":{"values":[{"v":1.2275,"y":-3.2,"t":"p"},{"v":1.3388,"y":-3.2,"t":"/"},{"v":1.375,"y":-3.2,"t":"p"}]},"mark":{"type":"text","align":"left","baseline":"alphabetic","fontSize":35,"fontStyle":"italic","color":"black","clip":false},
"encoding":{"x":{"field":"v","type":"quantitative"},"y":{"field":"y","type":"quantitative"},"text":{"field":"t"}}},
{"data":{"values":[{"v":1.2765,"y":-3.5,"t":"λ"}]},"mark":{"type":"text","align":"left","baseline":"alphabetic","fontSize":25,"fontStyle":"italic","color":"black","clip":false},
"encoding":{"x":{"field":"v","type":"quantitative"},"y":{"field":"y","type":"quantitative"},"text":{"field":"t"}}},
{"data":{"values":[{"v":1.4145,"y":-3.5,"t":"350"}]},"mark":{"type":"text","align":"left","baseline":"alphabetic","fontSize":25,"color":"black","clip":false},
"encoding":{"x":{"field":"v","type":"quantitative"},"y":{"field":"y","type":"quantitative"},"text":{"field":"t"}}}
],
"resolve":{"scale":{"x":"shared","y":"shared"}}
},
{"bounds":"flush","spacing":64,"vconcat":[
{"width":643,"height":491,"view":{"fill":"#a9a9a9","stroke":"black","strokeWidth":1.2},
"encoding":{"x":{"field":"ra","type":"quantitative","scale":{"domain":[10.82,10.64],"nice":false,"zero":false},"axis":{"values":[10.8,10.75,10.7,10.65],"labels":false,"title":null}},"y":{"field":"dec","type":"quantitative","scale":{"domain":[-60.1,-59.07],"nice":false,"zero":false},"axis":{"values":[-60,-59.8,-59.6,-59.4,-59.2],"format":".1f","title":"Dec [°] (J2000)","titlePadding":18,"labelFontSize":31}}},
"layer":[
{"data":{"name":"cells"},"mark":{"type":"rect","width":19.9,"height":20,"clip":true},"encoding":{"color":{"field":"r250","type":"quantitative","scale":{"domain":[0.25,0.4,0.55,0.7,0.85,1,1.15,1.3,1.45,1.6,1.75],"range":["#053061","#2166ac","#4393c3","#92c5de","#d1e5f0","#f7f7f7","#fddbc7","#f4a582","#d6604d","#b2182b","#67001f"],"clamp":true},"legend":null}}},
{"data":{"name":"open"},"transform":[{"window":[{"op":"row_number","as":"n"}]}],"mark":{"type":"line","interpolate":"cardinal","color":"black","strokeWidth":1.6,"clip":true},"encoding":{"detail":{"field":"c"},"order":{"field":"n","type":"quantitative"}}},
{"data":{"name":"closed"},"transform":[{"window":[{"op":"row_number","as":"n"}]}],"mark":{"type":"line","interpolate":"cardinal-closed","color":"black","strokeWidth":1.6,"clip":true},"encoding":{"detail":{"field":"c"},"order":{"field":"n","type":"quantitative"}}},
{"data":{"name":"star"},"mark":{"type":"point","filled":true,"color":"black","opacity":1,"size":460,"shape":"M0,-1L0.2245,-0.309L0.951,-0.309L0.363,0.118L0.588,0.809L0,0.382L-0.588,0.809L-0.363,0.118L-0.951,-0.309L-0.2245,-0.309Z"}},
{"data":{"name":"lab1"},"mark":{"type":"text","align":"left","baseline":"alphabetic","fontSize":36,"fontStyle":"italic","color":"black"},"encoding":{"text":{"field":"t"}}},
{"data":{"name":"sub250"},"mark":{"type":"text","align":"left","baseline":"alphabetic","fontSize":26,"color":"black"},"encoding":{"text":{"field":"t"}}}
]},
{"width":643,"height":491,"view":{"fill":"#a9a9a9","stroke":"black","strokeWidth":1.2},
"encoding":{"x":{"field":"ra","type":"quantitative","scale":{"domain":[10.82,10.64],"nice":false,"zero":false},"axis":{"values":[10.8,10.75,10.7,10.65],"labels":false,"title":null}},"y":{"field":"dec","type":"quantitative","scale":{"domain":[-60.1,-59.07],"nice":false,"zero":false},"axis":{"values":[-60,-59.8,-59.6,-59.4,-59.2],"format":".1f","title":"Dec [°] (J2000)","titlePadding":18,"labelFontSize":31}}},
"layer":[
{"data":{"name":"cells"},"mark":{"type":"rect","width":19.9,"height":20,"clip":true},"encoding":{"color":{"field":"r500","type":"quantitative","scale":{"domain":[0.25,0.4,0.55,0.7,0.85,1,1.15,1.3,1.45,1.6,1.75],"range":["#053061","#2166ac","#4393c3","#92c5de","#d1e5f0","#f7f7f7","#fddbc7","#f4a582","#d6604d","#b2182b","#67001f"],"clamp":true},"legend":null}}},
{"data":{"name":"open"},"transform":[{"window":[{"op":"row_number","as":"n"}]}],"mark":{"type":"line","interpolate":"cardinal","color":"black","strokeWidth":1.6,"clip":true},"encoding":{"detail":{"field":"c"},"order":{"field":"n","type":"quantitative"}}},
{"data":{"name":"closed"},"transform":[{"window":[{"op":"row_number","as":"n"}]}],"mark":{"type":"line","interpolate":"cardinal-closed","color":"black","strokeWidth":1.6,"clip":true},"encoding":{"detail":{"field":"c"},"order":{"field":"n","type":"quantitative"}}},
{"data":{"name":"star"},"mark":{"type":"point","filled":true,"color":"black","opacity":1,"size":460,"shape":"M0,-1L0.2245,-0.309L0.951,-0.309L0.363,0.118L0.588,0.809L0,0.382L-0.588,0.809L-0.363,0.118L-0.951,-0.309L-0.2245,-0.309Z"}},
{"data":{"name":"lab1"},"mark":{"type":"text","align":"left","baseline":"alphabetic","fontSize":36,"fontStyle":"italic","color":"black"},"encoding":{"text":{"field":"t"}}},
{"data":{"name":"sub500"},"mark":{"type":"text","align":"left","baseline":"alphabetic","fontSize":26,"color":"black"},"encoding":{"text":{"field":"t"}}}
]},
{"width":643,"height":491,"view":{"fill":"#a9a9a9","stroke":"black","strokeWidth":1.2},
"encoding":{"x":{"field":"ra","type":"quantitative","scale":{"domain":[10.82,10.64],"nice":false,"zero":false},"axis":{"values":[10.8,10.75,10.7,10.65],"format":".2f","title":"RA [h] (J2000)","titlePadding":10}},"y":{"field":"dec","type":"quantitative","scale":{"domain":[-60.1,-59.07],"nice":false,"zero":false},"axis":{"values":[-60,-59.8,-59.6,-59.4,-59.2],"format":".1f","title":"Dec [°] (J2000)","titlePadding":18,"labelFontSize":31}}},
"layer":[
{"data":{"name":"cells"},"mark":{"type":"rect","width":19.9,"height":20,"clip":true},"encoding":{"color":{"field":"r850","type":"quantitative","scale":{"domain":[0.25,0.4,0.55,0.7,0.85,1,1.15,1.3,1.45,1.6,1.75],"range":["#053061","#2166ac","#4393c3","#92c5de","#d1e5f0","#f7f7f7","#fddbc7","#f4a582","#d6604d","#b2182b","#67001f"],"clamp":true},"legend":null}}},
{"data":{"name":"open"},"transform":[{"window":[{"op":"row_number","as":"n"}]}],"mark":{"type":"line","interpolate":"cardinal","color":"black","strokeWidth":1.6,"clip":true},"encoding":{"detail":{"field":"c"},"order":{"field":"n","type":"quantitative"}}},
{"data":{"name":"closed"},"transform":[{"window":[{"op":"row_number","as":"n"}]}],"mark":{"type":"line","interpolate":"cardinal-closed","color":"black","strokeWidth":1.6,"clip":true},"encoding":{"detail":{"field":"c"},"order":{"field":"n","type":"quantitative"}}},
{"data":{"name":"star"},"mark":{"type":"point","filled":true,"color":"black","opacity":1,"size":460,"shape":"M0,-1L0.2245,-0.309L0.951,-0.309L0.363,0.118L0.588,0.809L0,0.382L-0.588,0.809L-0.363,0.118L-0.951,-0.309L-0.2245,-0.309Z"}},
{"data":{"name":"lab1"},"mark":{"type":"text","align":"left","baseline":"alphabetic","fontSize":36,"fontStyle":"italic","color":"black"},"encoding":{"text":{"field":"t"}}},
{"data":{"name":"sub850"},"mark":{"type":"text","align":"left","baseline":"alphabetic","fontSize":26,"color":"black"},"encoding":{"text":{"field":"t"}}}
]}
]}
]
}
